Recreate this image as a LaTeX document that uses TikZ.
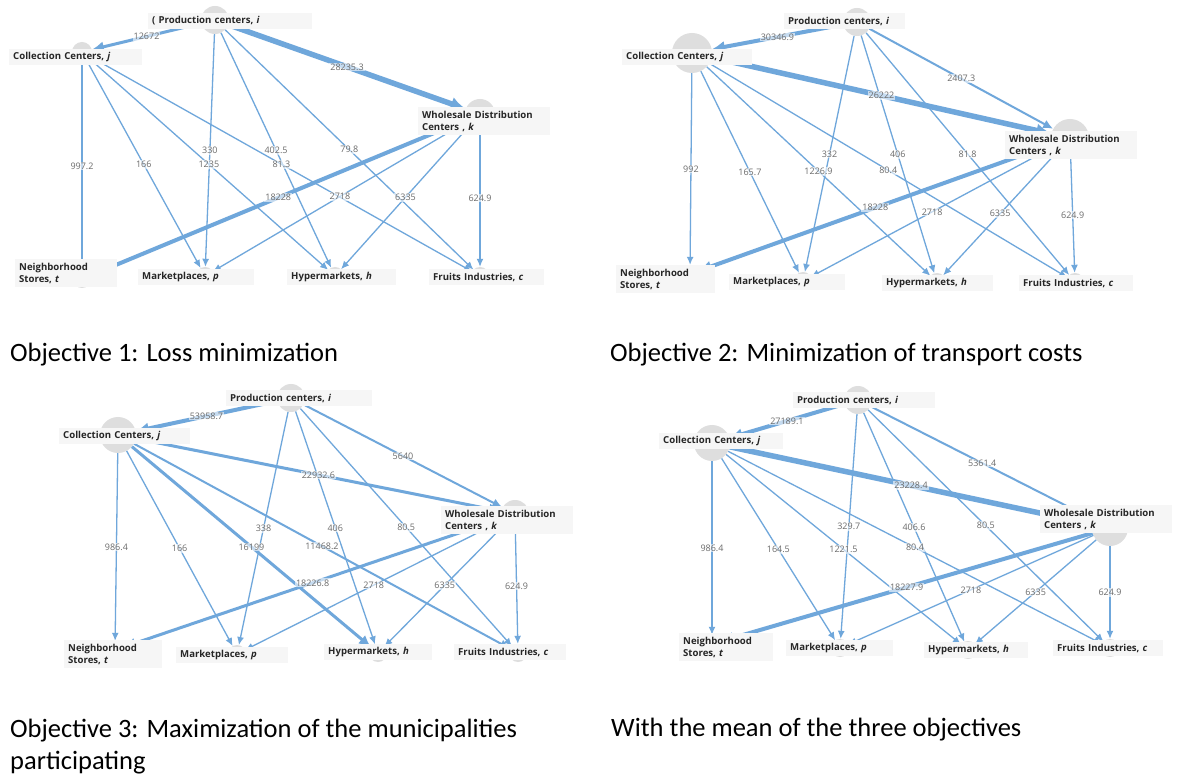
\documentclass[tikz,border=0pt]{standalone}
\usepackage{fontspec}
\setmainfont{Carlito}
\newfontfamily\lblfont{Open Sans}
\usetikzlibrary{arrows.meta}
\definecolor{flowblue}{RGB}{111,167,219}
\definecolor{hubgray}{RGB}{222,222,222}
\definecolor{taggray}{RGB}{246,246,246}
\tikzset{
  hub/.style={circle, fill=hubgray, inner sep=0pt, minimum size=#1},
  hub/.default=18pt,
  tag/.style={fill=taggray, anchor=west, align=left, inner xsep=4pt, inner ysep=3.5pt, text=black!85, font=\lblfont\bfseries\fontsize{9.6}{12}\selectfont},
  flow/.style={draw=flowblue, line width=1.3pt, -{Latex[length=8pt,width=7pt]}},
  flowii/.style={flow, line width=2pt, -{Latex[length=10pt,width=9pt]}},
  flowiii/.style={flow, line width=3pt, -{Latex[length=12pt,width=11pt]}},
  flowiv/.style={flow, line width=4pt, -{Latex[length=13pt,width=12pt]}},
  flowv/.style={flow, line width=5.5pt, -{Latex[length=15pt,width=14pt]}},
  qty/.style={midway, text=black!58, fill=white, fill opacity=0.6, text opacity=1, inner sep=1pt, font=\lblfont\fontsize{9}{10}\selectfont},
  objtext/.style={anchor=base west, inner sep=0pt, align=left, font=\fontsize{26.5}{32}\selectfont}
}
\begin{document}
\begin{tikzpicture}[x=1pt, y=-1pt]
\useasboundingbox [fill=white] (0,0) rectangle (1181,775);

\node [hub=28pt] (i1) at (215,20) {};
\node [hub=20pt] (j1) at (82,52) {};
\node [hub=30pt] (k1) at (480,114) {};
\node [hub] (t1) at (82,279) {};
\node [hub] (p1) at (205,276) {};
\node [hub] (h1) at (335,276) {};
\node [hub] (c1) at (480,276) {};

\draw [flowiii] (i1) -- node [qty] {12672} (j1);
\draw [flowv] (i1) -- node [qty] {28235.3} (k1);
\draw [flow] (i1) -- node [qty] {330} (p1);
\draw [flow] (i1) -- node [qty] {402.5} (h1);
\draw [flow] (i1) -- node [qty] {79.8} (c1);
\draw [flow] (j1) -- node [qty] {997.2} (t1);
\draw [flow] (j1) -- node [qty] {166} (p1);
\draw [flow] (j1) -- node [qty] {1235} (h1);
\draw [flow] (j1) -- node [qty] {81.3} (c1);
\draw [flowiv] (k1) -- node [qty] {18228} (t1);
\draw [flow] (k1) -- node [qty] {2718} (p1);
\draw [flow] (k1) -- node [qty] {6335} (h1);
\draw [flow] (k1) -- node [qty] {624.9} (c1);

\node [tag, text width=156pt] (i1tag) at (148,21) {( Production centers, \textit{i}};
\node [tag, text width=125pt] (j1tag) at (9,57) {Collection Centers, \textit{j}};
\node [tag, text width=124pt] (k1tag) at (418,121) {Wholesale Distribution\\Centers , \textit{k}};
\node [tag, text width=94pt] (t1tag) at (15,273) {Neighborhood\\Stores, \textit{t}};
\node [tag, text width=108pt] (p1tag) at (138,277) {Marketplaces, \textit{p}};
\node [tag, text width=101pt] (h1tag) at (287,277) {Hypermarkets, \textit{h}};
\node [tag, text width=107pt] (c1tag) at (429,277) {Fruits Industries, \textit{c}};

\node [hub=28pt] (i2) at (857,22) {};
\node [hub=40pt] (j2) at (692,53) {};
\node [hub=38pt] (k2) at (1070,138) {};
\node [hub] (t2) at (690,274) {};
\node [hub] (p2) at (803,281) {};
\node [hub] (h2) at (937,282) {};
\node [hub] (c2) at (1075,282) {};

\draw [flowiv] (i2) -- node [qty] {30346.9} (j2);
\draw [flowii] (i2) -- node [qty] {2407.3} (k2);
\draw [flow] (i2) -- node [qty] {332} (p2);
\draw [flow] (i2) -- node [qty] {406} (h2);
\draw [flow] (i2) -- node [qty] {81.8} (c2);
\draw [flowv] (j2) -- node [qty] {26222} (k2);
\draw [flow] (j2) -- node [qty] {992} (t2);
\draw [flow] (j2) -- node [qty] {165.7} (p2);
\draw [flow] (j2) -- node [qty] {1226.9} (h2);
\draw [flow] (j2) -- node [qty] {80.4} (c2);
\draw [flowiv] (k2) -- node [qty] {18228} (t2);
\draw [flow] (k2) -- node [qty] {2718} (p2);
\draw [flow] (k2) -- node [qty] {6335} (h2);
\draw [flow] (k2) -- node [qty] {624.9} (c2);

\node [tag, text width=113pt] (i2tag) at (784,21) {Production centers, \textit{i}};
\node [tag, text width=122pt] (j2tag) at (622,57) {Collection Centers, \textit{j}};
\node [tag, text width=124pt] (k2tag) at (1005,145) {Wholesale Distribution\\Centers , \textit{k}};
\node [tag, text width=91pt] (t2tag) at (616,279) {Neighborhood\\Stores, \textit{t}};
\node [tag, text width=108pt] (p2tag) at (729,282) {Marketplaces, \textit{p}};
\node [tag, text width=103pt] (h2tag) at (882,283) {Hypermarkets, \textit{h}};
\node [tag, text width=106pt] (c2tag) at (1019,283) {Fruits Industries, \textit{c}};

\node [hub=28pt] (i3) at (291,398) {};
\node [hub=36pt] (j3) at (118,435) {};
\node [hub=28pt] (k3) at (515,514) {};
\node [hub] (t3) at (115,650) {};
\node [hub] (p3) at (237,654) {};
\node [hub] (h3) at (378,653) {};
\node [hub] (c3) at (518,653) {};

\draw [flowiv] (i3) -- node [qty] {53958.7} (j3);
\draw [flowii] (i3) -- node [qty] {5640} (k3);
\draw [flow] (i3) -- node [qty] {338} (p3);
\draw [flow] (i3) -- node [qty] {406} (h3);
\draw [flow] (i3) -- node [qty] {80.5} (c3);
\draw [flowiii] (j3) -- node [qty] {22932.6} (k3);
\draw [flow] (j3) -- node [qty] {986.4} (t3);
\draw [flow] (j3) -- node [qty] {166} (p3);
\draw [flowiii] (j3) -- node [qty] {16199} (h3);
\draw [flowii] (j3) -- node [qty] {11468.2} (c3);
\draw [flowiii] (k3) -- node [qty] {18226.8} (t3);
\draw [flow] (k3) -- node [qty] {2718} (p3);
\draw [flow] (k3) -- node [qty] {6335} (h3);
\draw [flow] (k3) -- node [qty] {624.9} (c3);

\node [tag, text width=138pt] (i3tag) at (226,398) {Production centers, \textit{i}};
\node [tag, text width=123pt] (j3tag) at (59,436) {Collection Centers, \textit{j}};
\node [tag, text width=124pt] (k3tag) at (441,520) {Wholesale Distribution\\Centers , \textit{k}};
\node [tag, text width=90pt] (t3tag) at (64,654) {Neighborhood\\Stores, \textit{t}};
\node [tag, text width=104pt] (p3tag) at (176,655) {Marketplaces, \textit{p}};
\node [tag, text width=100pt] (h3tag) at (324,652) {Hypermarkets, \textit{h}};
\node [tag, text width=104pt] (c3tag) at (454,652) {Fruits Industries, \textit{c}};

\node [hub=28pt] (i4) at (858,400) {};
\node [hub=36pt] (j4) at (712,443) {};
\node [hub=36pt] (k4) at (1110,528) {};
\node [hub] (t4) at (712,644) {};
\node [hub] (p4) at (840,648) {};
\node [hub] (h4) at (968,650) {};
\node [hub] (c4) at (1110,648) {};

\draw [flowiv] (i4) -- node [qty] {27189.1} (j4);
\draw [flowii] (i4) -- node [qty] {5361.4} (k4);
\draw [flow] (i4) -- node [qty] {329.7} (p4);
\draw [flow] (i4) -- node [qty] {406.6} (h4);
\draw [flow] (i4) -- node [qty] {80.5} (c4);
\draw [flowv] (j4) -- node [qty] {23228.4} (k4);
\draw [flow] (j4) -- node [qty] {986.4} (t4);
\draw [flow] (j4) -- node [qty] {164.5} (p4);
\draw [flow] (j4) -- node [qty] {1221.5} (h4);
\draw [flow] (j4) -- node [qty] {80.4} (c4);
\draw [flowiv] (k4) -- node [qty] {18227.9} (t4);
\draw [flow] (k4) -- node [qty] {2718} (p4);
\draw [flow] (k4) -- node [qty] {6335} (h4);
\draw [flow] (k4) -- node [qty] {624.9} (c4);

\node [tag, text width=134pt] (i4tag) at (793,400) {Production centers, \textit{i}};
\node [tag, text width=116pt] (j4tag) at (659,441) {Collection Centers, \textit{j}};
\node [tag, text width=124pt] (k4tag) at (1040,519) {Wholesale Distribution\\Centers , \textit{k}};
\node [tag, text width=86pt] (t4tag) at (679,647) {Neighborhood\\Stores, \textit{t}};
\node [tag, text width=99pt] (p4tag) at (786,648) {Marketplaces, \textit{p}};
\node [tag, text width=96pt] (h4tag) at (924,650) {Hypermarkets, \textit{h}};
\node [tag, text width=102pt] (c4tag) at (1053,648) {Fruits Industries, \textit{c}};

\node [objtext] (obj1) at (10,362) {Objective 1: Loss minimization};
\node [objtext] (obj2) at (610,362) {Objective 2: Minimization of transport costs};
\node [objtext] (obj3) at (10,769) {Objective 3: Maximization of the municipalities\\participating};
\node [objtext] (obj4) at (611,736) {With the mean of the three objectives};
\end{tikzpicture}
\end{document}
